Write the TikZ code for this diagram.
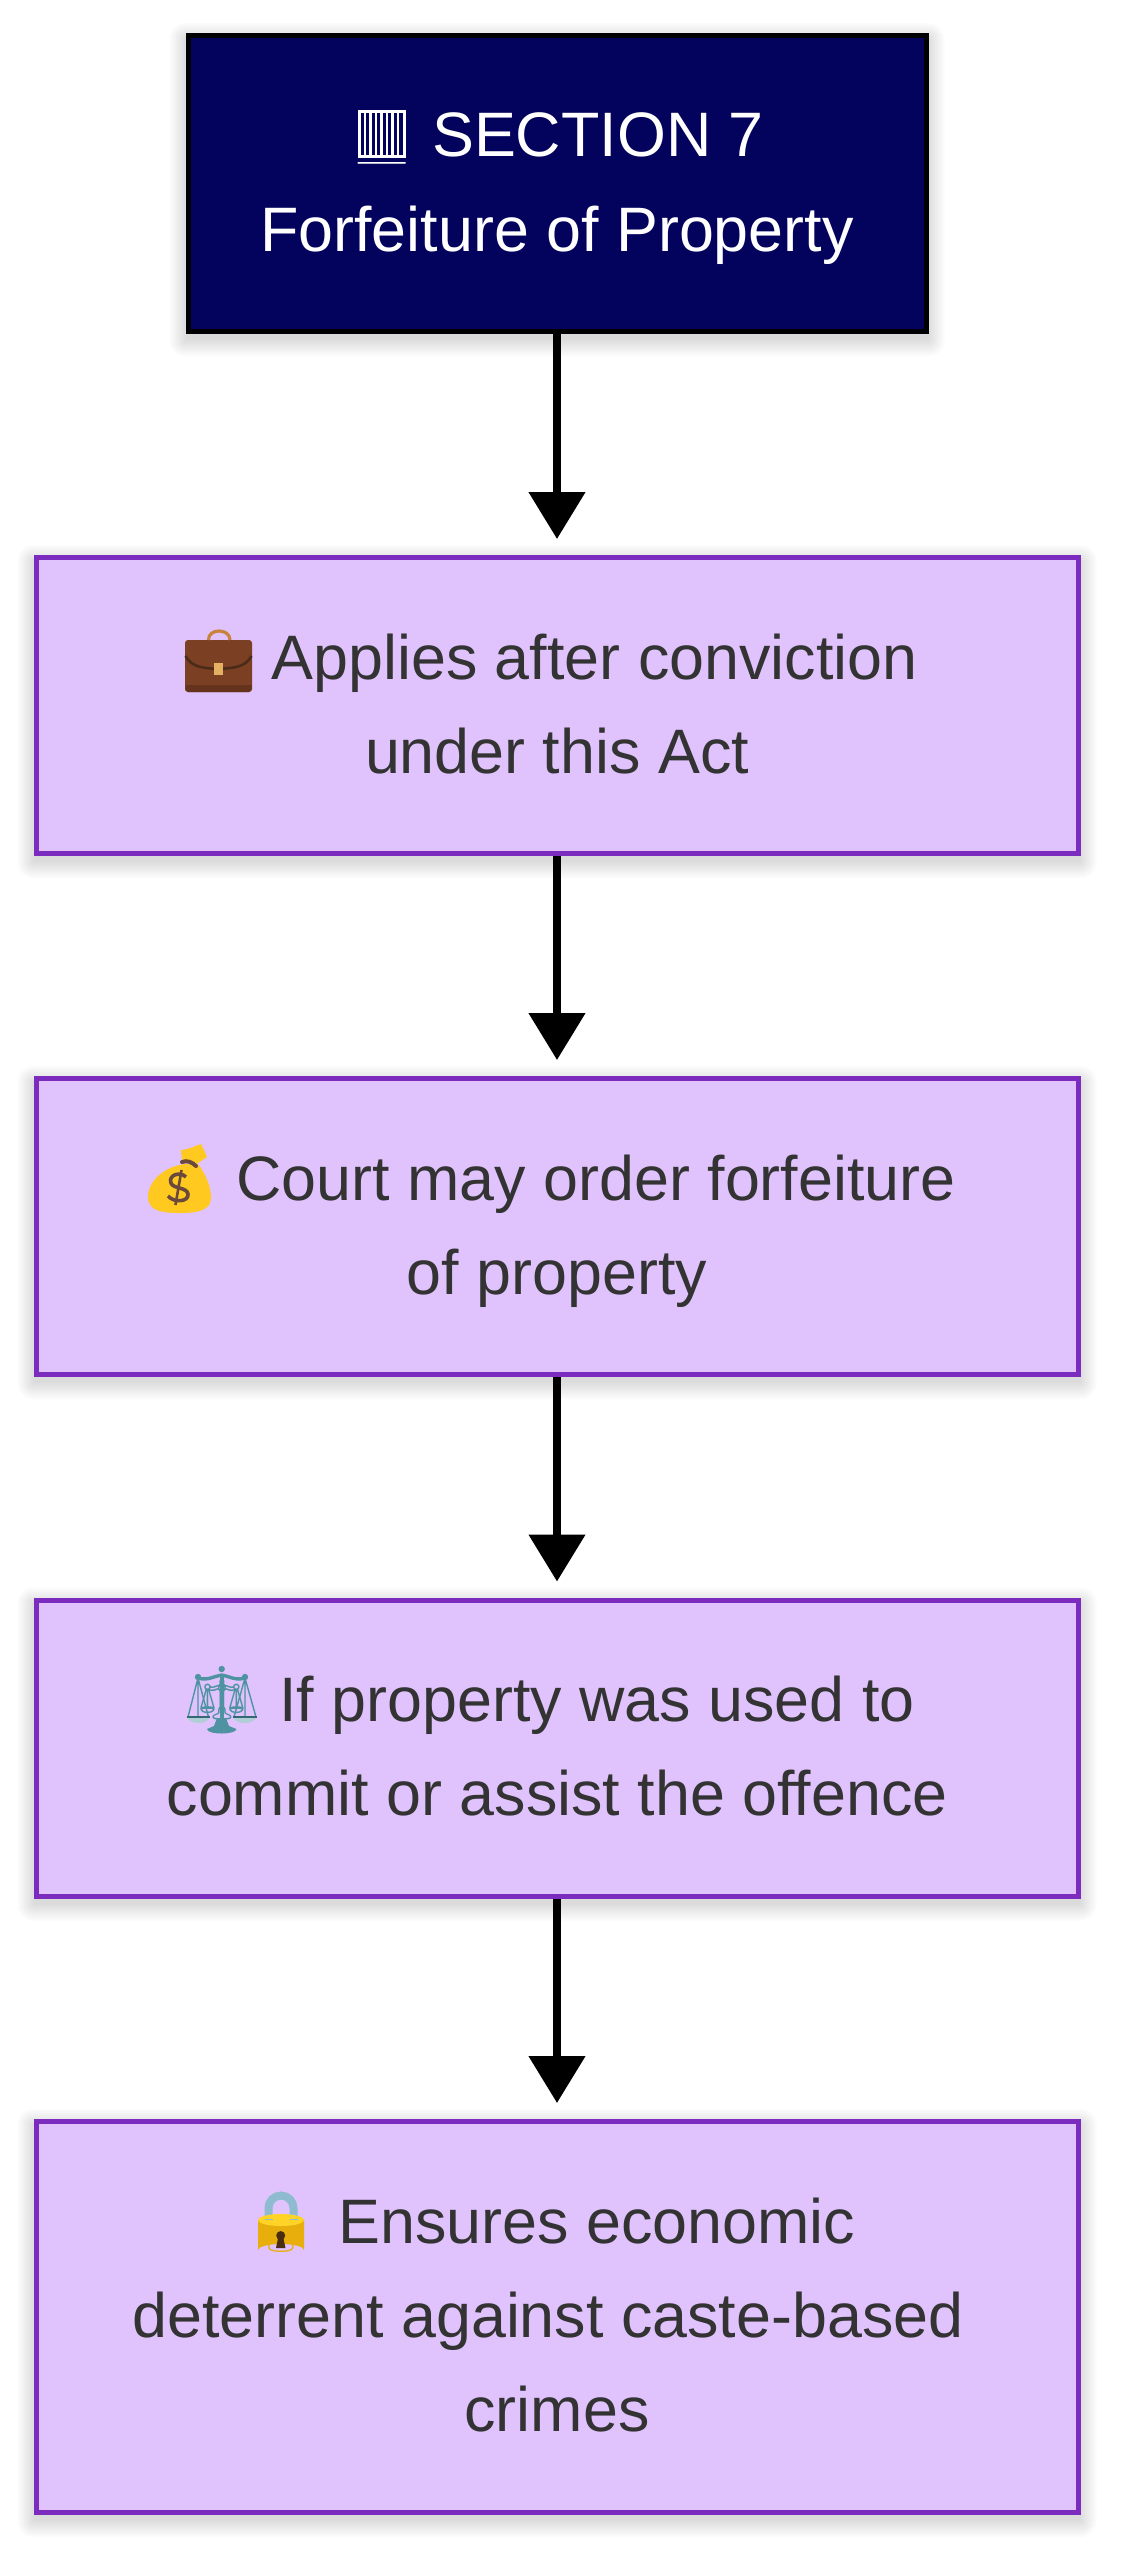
\documentclass[tikz,border=0pt]{standalone}
\usepackage{fontspec}
\setmainfont{Liberation Sans}
\newfontfamily\symfont{DejaVu Sans}
\newfontfamily\emojifont{Noto Emoji}
\usetikzlibrary{arrows.meta,calc,positioning}
\pgfdeclarelayer{bg}
\pgfdeclarelayer{shade}
\pgfsetlayers{bg,shade,main}
\definecolor{navy}{HTML}{03025C}
\definecolor{lilac}{HTML}{E0C3FC}
\definecolor{violet}{HTML}{7B2CBF}
\definecolor{ink}{HTML}{333333}
\definecolor{bagy}{HTML}{FFC91F}
\definecolor{bagb}{HTML}{6B4A3C}
\definecolor{casebr}{HTML}{7B3F24}
\definecolor{casedk}{HTML}{4A2A18}
\definecolor{casebd}{HTML}{65331B}
\definecolor{casehd}{HTML}{C8843C}
\definecolor{casecl}{HTML}{E5B062}
\definecolor{teal}{HTML}{4F93A3}
\definecolor{lockb}{HTML}{E8AE0C}
\definecolor{locktop}{HTML}{FFD426}
\definecolor{lockarm}{HTML}{8FBBD0}
\definecolor{lockkey}{HTML}{4A2C10}
\tikzset{
  x=1pt,y=-1pt,
  stepbox/.style={draw=violet,fill=lilac,line width=5pt,minimum width=1042pt,inner sep=0pt,
    text=ink,align=center,font=\fontsize{62.8}{94}\selectfont},
  headbox/.style={draw=black,fill=navy,line width=5pt,minimum width=738pt,minimum height=296pt,inner sep=0pt,
    text=white,align=center,font=\fontsize{62.8}{95}\selectfont},
  flow/.style={line width=8pt,draw=black,-{Triangle[length=47pt,width=55pt]},shorten >=16pt},
  emojiglyph/.style={inner sep=0pt,font=\emojifont\fontsize{44}{44}\selectfont},
}
\newcommand{\softshadow}[1]{%
  \begin{pgfonlayer}{shade}
  \foreach \e in {16,14,12,10,8,6,4,2,0}{
    \fill[black,opacity=.017,rounded corners=\e pt]
      ($(#1.north west)+(-\e,6-\e)$) rectangle ($(#1.south east)+(\e,6+\e)$);
  }
  \end{pgfonlayer}}
\newcommand{\slot}[1]{\hspace*{#1pt}}
\newcommand{\lineprop}{\rule[-15pt]{0pt}{71pt}}
\begin{document}
\begin{tikzpicture}
\useasboundingbox (0,0) rectangle (1120,2560);
\begin{pgfonlayer}{bg}\fill[white] (0,0) rectangle (1120,2560);\end{pgfonlayer}

\node[headbox] (sec) at (557,183.7) {\lineprop\makebox[64.5pt]{\symfont ▥} SECTION 7\\\lineprop Forfeiture of Property};
\node[stepbox,minimum height=296pt] (a) at (557,705.5) {\lineprop\slot{75}Applies after conviction\\\lineprop under this Act};
\node[stepbox,minimum height=296pt] (b) at (557,1226.5) {\lineprop\slot{78}Court may order forfeiture\\\lineprop of property};
\node[stepbox,minimum height=296pt] (c) at (557,1748) {\lineprop\slot{80}If property was used to\\\lineprop commit or assist the offence};
\node[stepbox,minimum height=391pt] (d) at (557,2317) {\lineprop\slot{80}Ensures economic\\\lineprop\hspace*{-18pt}deterrent against caste-based\\\lineprop crimes};

\softshadow{sec}\softshadow{a}\softshadow{b}\softshadow{c}\softshadow{d}

\draw[flow] (sec.south) -- (a.north);
\draw[flow] (a.south) -- (b.north);
\draw[flow] (b.south) -- (c.north);
\draw[flow] (c.south) -- (d.north);

% square with vertical fill, drawn finer over its glyph
\fill[navy] (354,106) rectangle (412,162);
\draw[white,line width=3pt] (359.5,111.5) rectangle (404.5,156.5);
\foreach \bx in {365,370.5,376,381.5,387,392.5,398}{
  \draw[white,line width=2.2pt] (\bx,111.5) -- (\bx,156.5);
}

% briefcase
\node[emojiglyph,text=casebr] (ecase) at (218.5,664) {💼};
\fill[casebr,rounded corners=3pt] (185,640) rectangle (252,692);
\fill[casebd] (185.5,685) -- (251.5,685) -- (251.5,689) [rounded corners=2pt] -- (251,692) -- (186,692) -- (185.5,689) -- cycle;
\draw[color=casedk,line width=2.5pt] (185.5,656) .. controls (192,668) and (205,668) .. (218,669) .. controls (232,668) and (245,668) .. (251.5,656);
\draw[color=casehd,line width=3.2pt] (208.5,640) .. controls (208,628) and (230,628) .. (230,640);
\fill[color=casecl] (213.5,663) rectangle (223,675);

% money bag
\node[emojiglyph,text=bagy] (ebag) at (180,1190) {💰};
\fill[bagy] (188,1164) .. controls (170,1164) and (148,1178) .. (148,1197) .. controls (148,1212) and (165,1213) .. (180,1213) .. controls (198,1213) and (211,1210) .. (211,1198) .. controls (211,1186) and (205,1173) .. (198,1164) -- cycle;
\fill[bagy] (181,1150) .. controls (187,1150) and (195,1146) .. (201,1144) -- (204,1150) -- (207,1157) -- (195,1165) -- (182,1160) -- cycle;
\draw[bagb,line width=4pt,line cap=round] (182,1162) .. controls (187,1160) and (192,1162) .. (196,1166);
\draw[bagb,line width=3.6pt] (186,1177) .. controls (180,1171) and (168,1175) .. (171,1183) .. controls (173,1189) and (187,1187) .. (188,1194) .. controls (189,1202) and (174,1203) .. (168,1196);
\draw[bagb,line width=2.6pt] (181.5,1170) -- (175.5,1205);

% scales
\node[emojiglyph,text=teal,font=\emojifont\fontsize{40}{40}\selectfont] (escale) at (222,1700) {⚖};
\fill[teal] (221.7,1669) circle (3.2);
\draw[teal,line width=3.4pt,line cap=round] (198,1678) .. controls (208,1681) and (214,1676) .. (221.7,1675) .. controls (229,1676) and (235,1681) .. (245,1678);
\fill[teal] (219.5,1675) rectangle (224,1718);
\fill[teal] (198,1677) circle (3.2);
\fill[teal] (245,1677) circle (3.2);
\fill[teal] (217,1718) -- (226,1718) -- (229,1726) -- (236.5,1729) .. controls (236,1735) and (207,1735) .. (207,1729) -- (214,1726) -- cycle;
\draw[teal,line width=1.4pt] (198,1678) -- (188,1717) (198,1678) -- (198,1717) (198,1678) -- (208.5,1717);
\draw[teal,line width=1.4pt] (245,1678) -- (234,1717) (245,1678) -- (245,1717) (245,1678) -- (256,1717);
\fill[teal!45!white] (187,1717) .. controls (190,1725) and (207,1725) .. (210,1717) -- cycle;
\fill[teal!45!white] (233,1717) .. controls (236,1725) and (253,1725) .. (257,1717) -- cycle;
\draw[teal!70!black,line width=1.4pt] (187,1717) -- (210,1717) (233,1717) -- (257,1717);

% lock
\node[emojiglyph,text=lockb,font=\emojifont\fontsize{36}{36}\selectfont] (elock) at (281,2234) {🔒};
\draw[color=lockarm,line width=8pt] (268.5,2221) -- (268.5,2208) arc[start angle=180,end angle=0,radius=12.5pt] -- (293.5,2221);
\fill[lockb] (258,2220) -- (258,2250) arc[x radius=23,y radius=-6,start angle=180,end angle=0] -- (304,2220) -- cycle;
\fill[locktop] (281,2220) ellipse[x radius=23,y radius=6];
\draw[color=lockarm,line width=8pt] (268.5,2220) -- (268.5,2219);
\draw[color=lockarm,line width=8pt] (293.5,2220) -- (293.5,2219);
\fill[lockkey] (280.7,2235.5) circle (4.5);
\fill[lockkey] (278.5,2236) -- (283,2236) -- (285.5,2248) -- (276,2248) -- cycle;
\end{tikzpicture}
\end{document}
